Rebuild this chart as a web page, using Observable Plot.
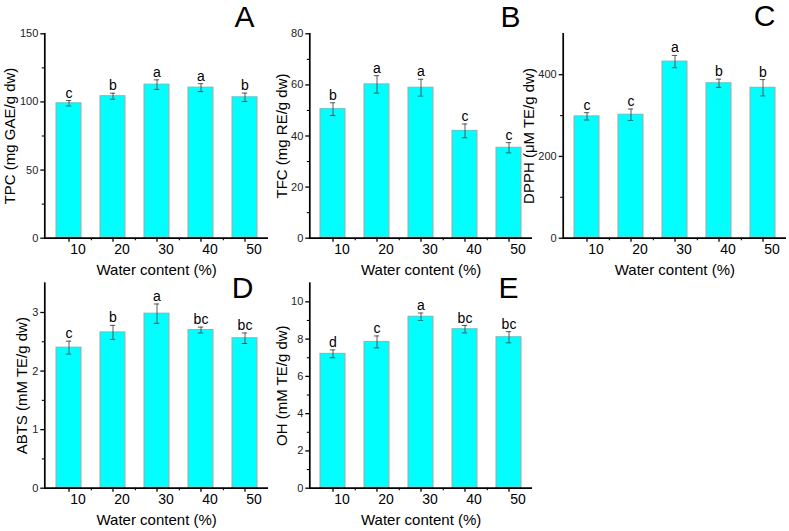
<!DOCTYPE html>
<html>
<head>
<meta charset="utf-8">
<script src="https://cdn.jsdelivr.net/npm/d3@7"></script>
<script src="https://cdn.jsdelivr.net/npm/@observablehq/plot@0.6"></script>
<style>
  html, body { margin: 0; padding: 0; background: white; }
  #chart { position: relative; width: 789px; height: 531px; overflow: hidden; }
  #chart svg { position: absolute; left: 0; top: 0; }
</style>
</head>
<body>
<div id="chart"></div>
<script>
// ---- Data ----
const waterContent = [10, 20, 30, 40, 50];

const tpc = [99.0, 104.2, 112.7, 110.5, 103.4];
const tpcErr = [2.0, 2.2, 3.5, 2.9, 3.1];
const tpcLetters = ["c", "b", "a", "a", "b"];

const tfc = [50.5, 60.2, 58.9, 42.0, 35.4];
const tfcErr = [2.5, 3.4, 3.3, 2.7, 2.0];
const tfcLetters = ["b", "a", "a", "c", "c"];

const dpph = [298, 302, 432, 379, 368];
const dpphErr = [9, 14, 15, 10, 20];
const dpphLetters = ["c", "c", "a", "b", "b"];

const abts = [2.40, 2.66, 2.98, 2.70, 2.56];
const abtsErr = [0.11, 0.12, 0.165, 0.05, 0.09];
const abtsLetters = ["c", "b", "a", "bc", "bc"];

const oh = [7.21, 7.85, 9.20, 8.53, 8.10];
const ohErr = [0.21, 0.32, 0.20, 0.20, 0.30];
const ohLetters = ["d", "c", "a", "bc", "bc"];

const xTitle = "Water content (%)";

// ---- Panels ----
const W = 789, H = 531;
const FONT = "'Liberation Sans', Arial, Helvetica, sans-serif";

function panel(cfg) {
  const data = waterContent.map((w, i) => ({wc: w, v: cfg.values[i], e: cfg.errors[i], g: cfg.letters[i]}));
  const frameW = W - cfg.ml - cfg.mr;
  const step = frameW / waterContent.length;
  const errColor = "#4a4a4a";
  return Plot.plot({
    width: W,
    height: H,
    marginLeft: cfg.ml,
    marginRight: cfg.mr,
    marginTop: cfg.mt,
    marginBottom: cfg.mb,
    style: {background: "none", fontFamily: FONT, overflow: "visible", color: "black"},
    x: {type: "band", domain: waterContent, paddingInner: 0.434, paddingOuter: 0.217, axis: null},
    y: {domain: cfg.yDomain, axis: null},
    marks: [
      Plot.barY(data, {x: "wc", y: "v", fill: "#00FFFF", stroke: "#A6A6A6", strokeWidth: 1}),
      Plot.ruleX(data, {x: "wc", y1: d => d.v - d.e, y2: d => d.v + d.e, stroke: errColor, strokeWidth: 0.9}),
      Plot.tickY(data, {x: "wc", y: d => d.v - d.e, insetLeft: 9.8, insetRight: 9.8, stroke: errColor, strokeWidth: 0.9}),
      Plot.tickY(data, {x: "wc", y: d => d.v + d.e, insetLeft: 9.8, insetRight: 9.8, stroke: errColor, strokeWidth: 0.9}),
      Plot.text(data, {x: "wc", y: d => d.v + d.e, text: "g", dy: -3, lineAnchor: "bottom", fontSize: 14, fill: "black"}),
      // axis lines
      Plot.ruleY([cfg.yDomain[0]], {stroke: "black", strokeWidth: 1.7}),
      Plot.frame({anchor: "left", stroke: "black", strokeWidth: 1.7}),
      // x ticks
      Plot.axisX({ticks: waterContent, tickSize: 4, text: null, label: null, strokeWidth: 1.3}),
      Plot.axisX({ticks: waterContent.slice(0, -1), tickSize: 2.5, text: null, label: null, dx: step / 2, strokeWidth: 1.1}),
      Plot.text(waterContent, {x: d => d, text: d => String(d), frameAnchor: "bottom", dy: 6, dx: 9, lineAnchor: "top", fontSize: 14, fill: "black"}),
      // y ticks
      Plot.axisY({ticks: cfg.yTicks, tickSize: 4, tickPadding: 2.5, fontSize: 11, label: null, strokeWidth: 1.3, fill: "#222", tickFormat: d => String(d)}),
      Plot.axisY({ticks: cfg.yMinor, tickSize: 2.5, text: null, label: null, strokeWidth: 1.1}),
      // titles
      Plot.text([cfg.title], {text: d => d, frameAnchor: "left", rotate: -90, dx: -cfg.titleOffset, textAnchor: "middle", lineAnchor: "middle", fontSize: 15, fill: "black"}),
      Plot.text([xTitle], {text: d => d, frameAnchor: "bottom", dy: 37, textAnchor: "middle", lineAnchor: "bottom", fontSize: 15, fill: "black"}),
      Plot.text([cfg.letter], {text: d => d, frameAnchor: "top-right", dx: cfg.letterDx, dy: cfg.letterDy, textAnchor: "end", lineAnchor: "bottom", fontSize: 30, fill: "black"})
    ]
  });
}

const topRow = {mt: 33.3, mb: H - 237.7};
const botRow = {mt: 282.7, mb: H - 487.7};
const col1 = {ml: 44.3, mr: W - 268};
const col2 = {ml: 309.3, mr: W - 532};
const col3 = {ml: 562.7, mr: W - 786};

const panels = [
  {...topRow, ...col1, values: tpc, errors: tpcErr, letters: tpcLetters, yDomain: [0, 150], yTicks: [0, 50, 100, 150], yMinor: [25, 75, 125],
   title: "TPC (mg GAE/g dw)", titleOffset: 35, letter: "A", letterDx: -14, letterDy: -7},
  {...topRow, ...col2, values: tfc, errors: tfcErr, letters: tfcLetters, yDomain: [0, 80], yTicks: [0, 20, 40, 60, 80], yMinor: [10, 30, 50, 70],
   title: "TFC (mg RE/g dw)", titleOffset: 28, letter: "B", letterDx: -12, letterDy: -6.6},
  {...topRow, ...col3, values: dpph, errors: dpphErr, letters: dpphLetters, yDomain: [0, 500], yTicks: [0, 200, 400], yMinor: [100, 300],
   title: "DPPH (\u03bcM TE/g dw)", titleOffset: 34, letter: "C", letterDx: -11, letterDy: -8},
  {...botRow, ...col1, values: abts, errors: abtsErr, letters: abtsLetters, yDomain: [0, 3.5], yTicks: [0, 1, 2, 3], yMinor: [0.5, 1.5, 2.5],
   title: "ABTS (mM TE/g dw)", titleOffset: 23, letter: "D", letterDx: -15, letterDy: 14.3},
  {...botRow, ...col2, values: oh, errors: ohErr, letters: ohLetters, yDomain: [0, 11], yTicks: [0, 2, 4, 6, 8, 10], yMinor: [1, 3, 5, 7, 9],
   title: "OH (mM TE/g dw)", titleOffset: 28, letter: "E", letterDx: -14, letterDy: 14.3}
];

const chart = document.getElementById("chart");
for (const p of panels) chart.appendChild(panel(p));
</script>
</body>
</html>
